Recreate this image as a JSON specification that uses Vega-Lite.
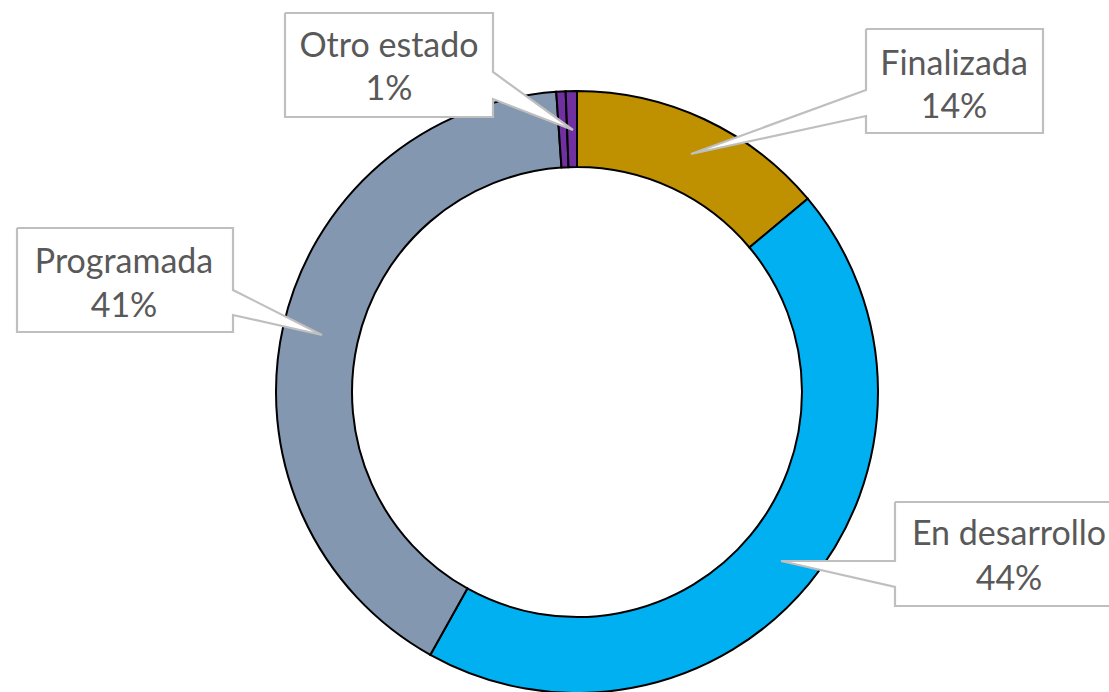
{
  "$schema": "https://vega.github.io/schema/vega-lite/v6.json",
  "width": 1109,
  "height": 692,
  "autosize": {"type": "none"},
  "padding": 0,
  "background": "white",
  "config": {"view": {"stroke": null}},
  "datasets": {
    "slices": [
      {"estado": "Finalizada", "valor": 139, "idx": 1},
      {"estado": "En desarrollo", "valor": 442, "idx": 2},
      {"estado": "Programada", "valor": 408, "idx": 3},
      {"estado": "Cancelada", "valor": 5, "idx": 4},
      {"estado": "Otro estado", "valor": 6, "idx": 5}
    ],
    "callouts": [
      {"label": "Otro estado", "k": 1, "px": 285, "py": 13},
      {"label": "Otro estado", "k": 2, "px": 493, "py": 13},
      {"label": "Otro estado", "k": 3, "px": 493, "py": 72},
      {"label": "Otro estado", "k": 4, "px": 573, "py": 130},
      {"label": "Otro estado", "k": 5, "px": 493, "py": 99},
      {"label": "Otro estado", "k": 6, "px": 493, "py": 117},
      {"label": "Otro estado", "k": 7, "px": 285, "py": 117},
      {"label": "Otro estado", "k": 8, "px": 285, "py": 13},
      {"label": "Finalizada", "k": 1, "px": 866, "py": 29},
      {"label": "Finalizada", "k": 2, "px": 1043, "py": 29},
      {"label": "Finalizada", "k": 3, "px": 1043, "py": 133},
      {"label": "Finalizada", "k": 4, "px": 866, "py": 133},
      {"label": "Finalizada", "k": 5, "px": 866, "py": 116},
      {"label": "Finalizada", "k": 6, "px": 691, "py": 154},
      {"label": "Finalizada", "k": 7, "px": 866, "py": 90},
      {"label": "Finalizada", "k": 8, "px": 866, "py": 29},
      {"label": "Programada", "k": 1, "px": 17, "py": 228},
      {"label": "Programada", "k": 2, "px": 233, "py": 228},
      {"label": "Programada", "k": 3, "px": 233, "py": 290},
      {"label": "Programada", "k": 4, "px": 322, "py": 335},
      {"label": "Programada", "k": 5, "px": 233, "py": 315},
      {"label": "Programada", "k": 6, "px": 233, "py": 332},
      {"label": "Programada", "k": 7, "px": 17, "py": 332},
      {"label": "Programada", "k": 8, "px": 17, "py": 228},
      {"label": "En desarrollo", "k": 1, "px": 895, "py": 502},
      {"label": "En desarrollo", "k": 2, "px": 1123, "py": 502},
      {"label": "En desarrollo", "k": 3, "px": 1123, "py": 606},
      {"label": "En desarrollo", "k": 4, "px": 895, "py": 606},
      {"label": "En desarrollo", "k": 5, "px": 895, "py": 587},
      {"label": "En desarrollo", "k": 6, "px": 781, "py": 561},
      {"label": "En desarrollo", "k": 7, "px": 895, "py": 561},
      {"label": "En desarrollo", "k": 8, "px": 895, "py": 502}
    ],
    "labels": [
      {"t": "Otro estado", "tx": 389, "ty": 57},
      {"t": "1%", "tx": 389, "ty": 100},
      {"t": "Finalizada", "tx": 954, "ty": 75},
      {"t": "14%", "tx": 954, "ty": 118},
      {"t": "Programada", "tx": 124, "ty": 273},
      {"t": "41%", "tx": 124, "ty": 317},
      {"t": "En desarrollo", "tx": 1009, "ty": 545},
      {"t": "44%", "tx": 1009, "ty": 590}
    ]
  },
  "layer": [
    {
      "data": {"name": "slices"},
      "mark": {"type": "arc", "outerRadius": 301, "innerRadius": 225, "stroke": "black", "strokeWidth": 2},
      "encoding": {
        "x": {"datum": 577, "type": "quantitative", "scale": {"domain": [0, 1109], "nice": false, "zero": false}, "axis": null},
        "y": {"datum": 392, "type": "quantitative", "scale": {"domain": [0, 692], "range": [0, 692], "nice": false, "zero": false}, "axis": null},
        "theta": {"field": "valor", "type": "quantitative", "stack": true},
        "order": {"field": "idx", "type": "quantitative"},
        "color": {
          "field": "estado",
          "type": "nominal",
          "scale": {
            "domain": ["Finalizada", "En desarrollo", "Programada", "Cancelada", "Otro estado"],
            "range": ["#BF9000", "#00B0F0", "#8497B0", "#7030A0", "#7030A0"]
          },
          "legend": null
        }
      }
    },
    {
      "data": {"name": "callouts"},
      "mark": {"type": "line", "fill": "white", "stroke": "#BFBFBF", "strokeWidth": 2.2, "strokeJoin": "miter"},
      "encoding": {
        "x": {"field": "px", "type": "quantitative"},
        "y": {"field": "py", "type": "quantitative"},
        "detail": {"field": "label"},
        "order": {"field": "k", "type": "quantitative"}
      }
    },
    {
      "data": {"name": "labels"},
      "mark": {"type": "text", "font": "Lato", "fontSize": 34, "color": "#595959", "align": "center", "baseline": "alphabetic"},
      "encoding": {
        "x": {"field": "tx", "type": "quantitative"},
        "y": {"field": "ty", "type": "quantitative"},
        "text": {"field": "t"}
      }
    }
  ]
}
